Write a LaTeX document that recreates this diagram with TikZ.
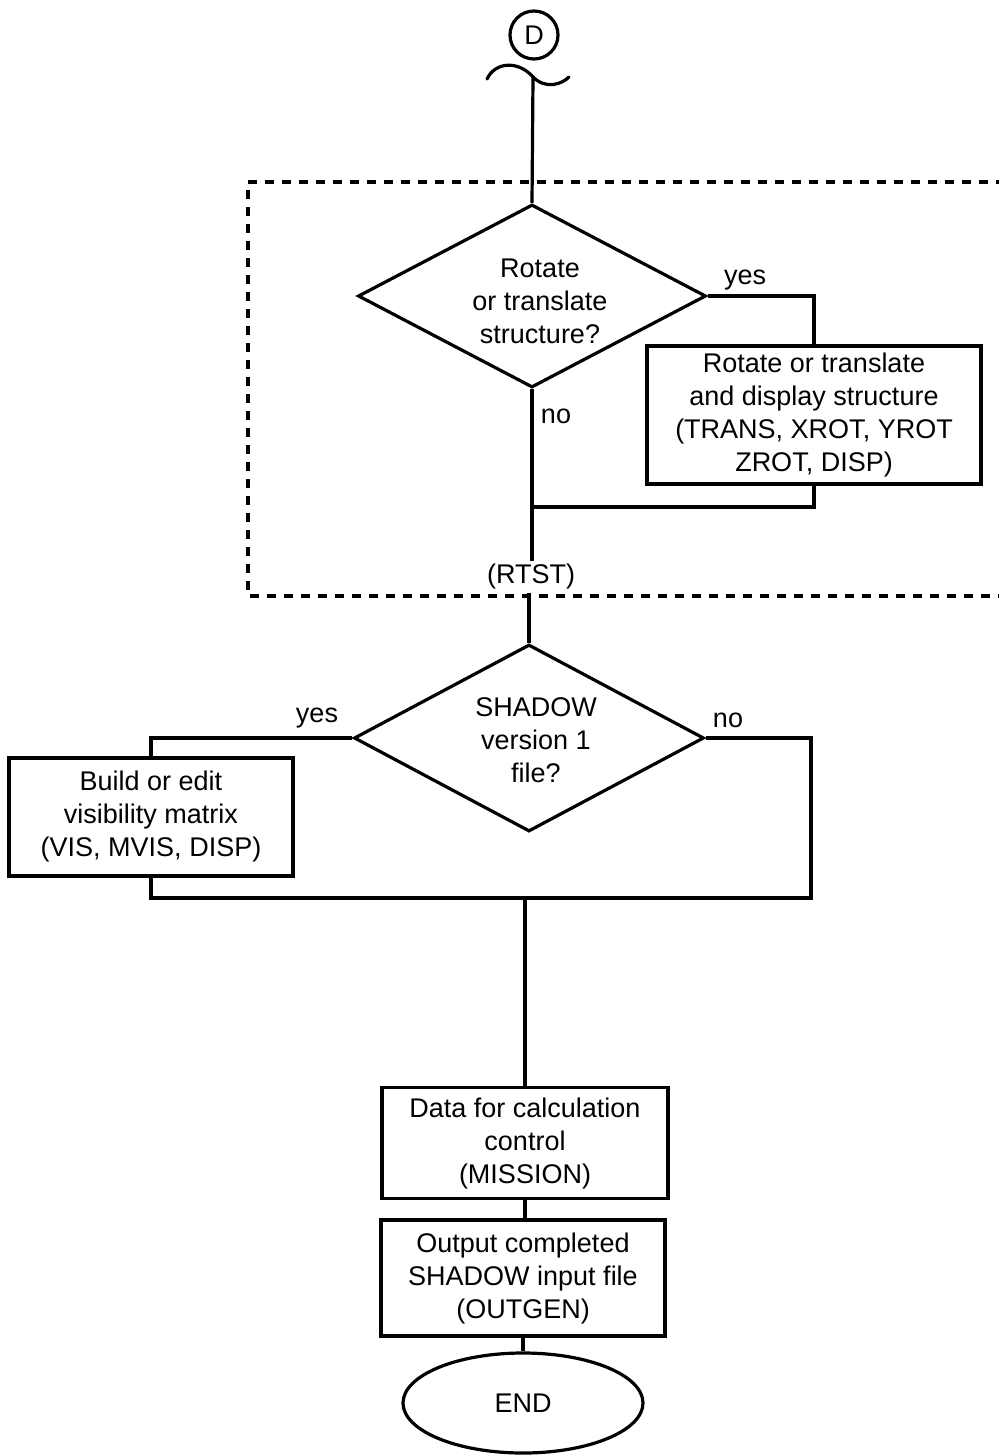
\documentclass[tikz,border=0pt]{standalone}
\usepackage{fontspec}
\setmainfont{Liberation Sans}
\usetikzlibrary{shapes.geometric}

\tikzset{every picture/.style={line width=1.6pt}}
\tikzset{
	flowfont/.style={font=\fontsize{13.5}{16.5}\selectfont},
	procbox/.style={draw, rectangle, inner sep=0pt, align=center, flowfont},
	decision/.style={draw, diamond, inner sep=0pt},
	lbl/.style={inner sep=0.75pt, align=center, flowfont},
	termin/.style={draw, ellipse, inner sep=0pt, flowfont},
	offpage/.style={draw, circle, inner sep=0pt, minimum size=24pt, flowfont},
	frame/.style={dash pattern=on 4.5pt off 4pt, line width=1.9pt}
}

\begin{document}
\begin{tikzpicture}[x=0.5pt,y=0.5pt,yscale=-1,xscale=1]
				\useasboundingbox (0,0) rectangle (999,1456);
				%Shape: Circle [connector D]
				\node [offpage] (d) at (534,35) {D};
				%Curve Lines [break]
				\draw [line cap=round] (487,79) .. controls (495,62) and (518,60) .. (533,77) .. controls (546,90) and (562,84) .. (569,77) ;
				\coordinate (brk) at (533,77);
				%Shape: Rectangle [dashed frame]
				\draw [frame] (1005,182) -- (248,182) -- (248,596) -- (1005,596) ;
				%Shape: Diamond
				\node [decision, minimum width=174pt, minimum height=91.5pt] (rot) at (532,296) {};
				% Text Node
				\node [lbl] (rottxt) at (540,301) {Rotate\\or translate\\structure?};
				%Shape: Rectangle
				\node [procbox, minimum width=167pt, minimum height=69pt] (rtbox) at (814,415) {Rotate or translate\\and display structure\\(TRANS, XROT, YROT\\ZROT, DISP)};
				% Text Node
				\node [lbl] (rtst) at (531,577) {(RTST)};
				%Shape: Diamond
				\node [decision, minimum width=175pt, minimum height=93.5pt] (shd) at (529,738) {};
				% Text Node
				\node [lbl] (shdtxt) at (536,740) {SHADOW\\version 1\\file?};
				%Shape: Rectangle
				\node [procbox, minimum width=142pt, minimum height=59pt] (vis) at (151,817) {Build or edit\\visibility matrix\\(VIS, MVIS, DISP)};
				%Shape: Rectangle
				\node [procbox, minimum width=143pt, minimum height=55.5pt] (mis) at (525,1143) {Data for calculation\\control\\(MISSION)};
				%Shape: Rectangle
				\node [procbox, minimum width=142pt, minimum height=58pt] (outg) at (523,1278) {Output completed\\SHADOW input file\\(OUTGEN)};
				%Shape: Ellipse
				\node [termin, minimum width=120pt, minimum height=50pt] (fin) at (523,1403) {END};
				% Text Node
				\node [lbl] (yes1) at (745,280) {yes};
				% Text Node
				\node [lbl] (no1) at (556,416) {no};
				% Text Node
				\node [lbl] (yes2) at (317,718) {yes};
				% Text Node
				\node [lbl] (no2) at (728,720) {no};
				\coordinate (m1) at (532,507);
				\coordinate (m2) at (811,898);
				%Straight Lines
				\draw (brk) -- (rot.north) ;
				\draw (rot.east) -| (rtbox.north) ;
				\draw (rot.south) -- (rot.south |- rtst.north) ;
				\draw (rtbox.south) |- (m1) ;
				\draw (rtst.south -| shd.north) -- (shd.north) ;
				\draw (shd.west) -| (vis.north) ;
				\draw (shd.east) -| (m2) -| (vis.south) ;
				\draw (mis.north |- m2) -- (mis.north) ;
				\draw (mis.south) -- (mis.south |- outg.north) ;
				\draw (outg.south) -- (fin.north) ;
\end{tikzpicture}
\end{document}
